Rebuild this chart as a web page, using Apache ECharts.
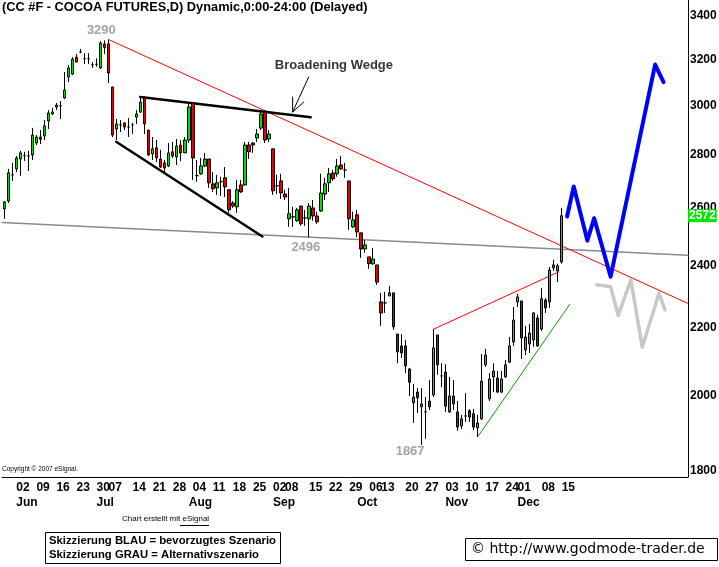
<!DOCTYPE html>
<html><head><meta charset="utf-8">
<script src="https://cdn.jsdelivr.net/npm/echarts@6/dist/echarts.min.js"></script>
<style>html,body{margin:0;padding:0;background:#fff}#c{width:719px;height:567px}</style>
</head><body><div id="c"></div>
<script>
// daily candles [open, close, low, high], 30 May 2007 .. 14 Dec 2007
const candles = [
[2597,2622,2561,2625],[2625,2731,2618,2746],[2723,2723,2700,2769],[2746,2788,2734,2796],[2784,2808,2719,2816],
[2797,2797,2776,2812],[2796,2796,2738,2816],[2800,2879,2780,2907],[2847,2871,2839,2879],[2871,2862,2843,2899],
[2875,2916,2859,2940],[2936,2969,2903,2981],[2965,2973,2961,2990],[2994,3002,2981,3011],[2999,2999,2944,3019],
[3032,3066,3027,3144],[3122,3162,3100,3175],[3135,3201,3131,3210],[3210,3188,3188,3224],[3233,3233,3228,3247],
[3203,3203,3179,3228],[3203,3203,3179,3228],[3176,3176,3162,3188],[3178,3178,3167,3205],[3162,3274,3158,3283],
[3270,3254,3224,3286],[3270,3140,3096,3290],[3079,2879,2871,3079],[2903,2924,2859,2944],[2920,2920,2891,2940],
[2928,2911,2899,2932],[2911,2911,2871,2948],[2920,2920,2883,2928],[2952,2965,2924,2981],[2973,3015,2969,3036],
[3032,2924,2883,3040],[2899,2800,2796,2899],[2804,2824,2780,2871],[2828,2788,2772,2859],[2784,2753,2749,2820],
[2769,2749,2734,2780],[2757,2808,2753,2847],[2812,2796,2788,2851],[2792,2835,2761,2863],[2839,2808,2776,2859],
[2808,2859,2808,2871],[2859,2994,2847,3015],[3011,2788,2704,3015],[2720,2720,2697,2780],[2727,2757,2723,2788],
[2757,2784,2753,2808],[2784,2693,2674,2784],[2689,2671,2659,2734],[2674,2693,2648,2723],[2697,2697,2644,2716],
[2712,2678,2640,2753],[2667,2593,2582,2667],[2618,2607,2600,2625],[2604,2667,2582,2704],[2685,2659,2655,2704],
[2685,2839,2682,2851],[2839,2812,2784,2851],[2847,2839,2808,2851],[2867,2883,2851,2903],[2907,2965,2899,2981],
[2973,2859,2847,2981],[2863,2883,2851,2899],[2824,2663,2648,2824],[2682,2682,2651,2723],[2700,2655,2633,2727],
[2651,2640,2629,2667],[2561,2579,2532,2674],[2568,2568,2532,2604],[2554,2593,2550,2600],[2607,2543,2536,2607],
[2564,2564,2536,2593],[2561,2607,2496,2618],[2600,2571,2554,2629],[2571,2550,2543,2586],[2589,2655,2586,2727],
[2651,2689,2629,2712],[2693,2727,2659,2749],[2730,2708,2700,2742],[2727,2757,2716,2784],[2761,2746,2742,2796],
[2742,2742,2712,2769],[2700,2561,2521,2700],[2532,2557,2529,2586],[2575,2514,2496,2593],[2511,2455,2425,2511],
[2455,2469,2442,2486],[2428,2405,2388,2428],[2405,2421,2401,2459],[2401,2344,2335,2401],[2280,2245,2205,2309],
[2277,2277,2245,2312],[2299,2309,2299,2332],[2309,2202,2193,2309],[2180,2126,2093,2180],[2144,2123,2108,2180],
[2144,2085,2064,2162],[2076,2038,1999,2079],[1980,1996,1925,2033],[2010,1994,1952,2021],[1969,1977,1867,2021],
[1955,1955,1883,1996],[1985,1969,1960,2044],[2002,2138,1996,2195],[2177,2088,2059,2177],[2056,2056,2024,2093],
[2067,1971,1955,2090],[1955,1999,1952,2053],[1999,1977,1960,2044],[1955,1914,1904,1985],[1917,1936,1909,1947],
[1944,1944,1928,2007],[1958,1941,1928,1963],[1950,1914,1906,1963],[1912,1925,1888,1947],[1936,2041,1933,2120],
[2088,2117,2082,2135],[1991,2047,1985,2064],[2053,2070,2010,2093],[2050,2010,2007,2070],[2010,2047,2007,2070],
[2053,2088,2050,2102],[2096,2144,2093,2171],[2156,2223,2144,2264],[2280,2296,2264,2306],[2283,2168,2105,2283],
[2132,2171,2117,2205],[2150,2183,2123,2211],[2162,2245,2141,2248],[2229,2144,2141,2239],[2195,2290,2189,2325],
[2286,2261,2245,2293],[2280,2384,2261,2394],[2391,2401,2381,2418],[2381,2398,2344,2405],[2411,2572,2405,2600]
];
const slotCount = 171; // trading-day slots incl. projection space
const weekLabels = ['02','09','16','23','30','07','14','21','28','04','11','18','25','02','08','15','22','29','06','13','20','27','03','10','17','24','01','08','15'];
const weekIdx    = [3,8,13,18,23,26,32,37,42,47,52,57,62,67,70,76,81,86,91,94,100,105,110,115,120,125,128,134,139];
const monthLabels = ['Jun','Jul','Aug','Sep','Oct','Nov','Dec'];
const monthIdx    = [3,23,46,67,88,110,128];
const yTicks = [1800,2000,2200,2400,2600,2800,3000,3200,3400];
const lastClose = 2572;
const resistanceLine = [[26,3290],[170.5,2275]];
const supportLine = [[-0.5,2548],[170.5,2434]];
const wedgeUpper = [[33.9,3036],[76.4,2951]];
const wedgeLower = [[27.9,2852],[64.35,2498]];
const channelUpper = [[107.1,2195],[138.3,2378]];
const trendLine = [[118.1,1889],[141,2272]];
const blueScenario = [[140.35,2569],[142,2679],[145.4,2484],[147.1,2563],[151.2,2362],[162.3,3177],[164.4,3100]];
const grayScenario = [[147.7,2335],[151.2,2329],[153.1,2237],[156.25,2351],[159.1,2140],[163.25,2308],[164.75,2255]];
const arrowShaft = [[75.9,3122],[71.9,2973]];
const arrowHead = [[71.9,3036],[71.9,2973],[74.7,3015]];
const pivotLabels = [[24.2,3334,'3290'],[75.2,2459,'2496'],[101.2,1849,'1867']];
const patternLabel = [[82.2,3171,'Broadening Wedge']];

const cats = Array.from({length: slotCount}, (_, i) => String(i));
const weekMap = {}; weekIdx.forEach((v, i) => weekMap[v] = weekLabels[i]);
const monthMap = {}; monthIdx.forEach((v, i) => monthMap[v] = monthLabels[i]);
const FONT = 'Liberation Sans, Arial, sans-serif';

function lineSeries(data, color, width) {
  return { type: 'line', xAxisIndex: 2, yAxisIndex: 0, data: data, symbol: 'none', silent: true,
    lineStyle: { color: color, width: width, cap: 'round', join: 'round' }, z: 3 };
}

const chart = echarts.init(document.getElementById('c'), null, { renderer: 'canvas' });
chart.setOption({
  animation: false,
  backgroundColor: '#fff',
  grid: { left: 2.3, right: 31, top: 0, bottom: 90 },
  xAxis: [
    { type: 'category', data: cats, boundaryGap: true,
      axisLine: { show: true, onZero: false, lineStyle: { color: '#000', width: 1 } }, axisTick: { show: false },
      axisLabel: { interval: (i) => weekMap[i] !== undefined, formatter: (v, i) => weekMap[i] || '',
        align: 'left', margin: 5, color: '#000', fontWeight: 'bold', fontSize: 12, fontFamily: FONT } },
    { type: 'category', data: cats, boundaryGap: true, position: 'bottom', offset: 15,
      axisLine: { show: false, onZero: false }, axisTick: { show: false },
      axisLabel: { interval: (i) => monthMap[i] !== undefined, formatter: (v, i) => monthMap[i] || '',
        align: 'left', margin: 5, color: '#000', fontWeight: 'bold', fontSize: 12, fontFamily: FONT } },
    { type: 'value', min: -0.5, max: slotCount - 0.5, show: false, axisLine: { onZero: false } }
  ],
  yAxis: [{ type: 'log', logBase: 10, min: 1785, max: 3477, position: 'right',
    axisLine: { show: true, onZero: false, lineStyle: { color: '#000', width: 1 } }, axisTick: { show: false },
    axisLabel: { show: false }, splitLine: { show: false } }],
  series: [
    lineSeries(supportLine, '#8a8a8a', 1.5),
    lineSeries(resistanceLine, '#ff0000', 1),
    lineSeries(channelUpper, '#ff0000', 1),
    lineSeries(trendLine, '#00a000', 1),
    lineSeries(wedgeUpper, '#000', 2.5),
    lineSeries(wedgeLower, '#000', 2.5),
    lineSeries(arrowShaft, '#000', 1),
    lineSeries(arrowHead, '#000', 1),
    lineSeries(grayScenario, '#c8c8c8', 3.5),
    lineSeries(blueScenario, '#0000ff', 4),
    { type: 'candlestick', xAxisIndex: 0, yAxisIndex: 0, data: candles, barWidth: 3, z: 4,
      itemStyle: { color: '#00e000', color0: '#e80000', borderColor: '#000', borderColor0: '#000', borderColorDoji: '#000', borderWidth: 1 },
      markLine: { silent: true, symbol: 'none', animation: false,
        lineStyle: { width: 0, color: 'transparent' },
        label: { show: true, position: 'end', distance: 2, formatter: '{c}', color: '#000', fontWeight: 'bold', fontSize: 12, fontFamily: FONT },
        data: yTicks.map(v => ({ yAxis: v })).concat([{ yAxis: lastClose,
          label: { backgroundColor: '#00e800', color: '#fff', padding: [1, 1, 0, 1], distance: 0 } }]) }
    },
    { type: 'scatter', xAxisIndex: 2, yAxisIndex: 0, symbolSize: 0, silent: true, z: 6,
      data: pivotLabels,
      label: { show: true, position: 'inside', formatter: p => p.data[2], color: '#8c8c8c', fontWeight: 'bold', fontSize: 13, fontFamily: FONT } },
    { type: 'scatter', xAxisIndex: 2, yAxisIndex: 0, symbolSize: 0, silent: true, z: 6,
      data: patternLabel,
      label: { show: true, position: 'inside', formatter: p => p.data[2], color: '#000', fontWeight: 'bold', fontSize: 13, fontFamily: FONT } }
  ],
  graphic: [
    { type: 'text', left: 2, top: 1, style: { text: '(CC #F - COCOA FUTURES,D) Dynamic,0:00-24:00 (Delayed)', font: 'bold 12.8px ' + FONT, fill: '#000' } },
    { type: 'text', left: 2, top: 466, style: { text: 'Copyright \u00a9 2007 eSignal.', font: '6.5px ' + FONT, fill: '#000' } },
    { type: 'text', left: 122, top: 515, style: { text: 'Chart erstellt mit eSignal', font: '8px ' + FONT, fill: '#000' } },
    { type: 'line', shape: { x1: 180, y1: 525.5, x2: 209, y2: 525.5 }, style: { stroke: '#000', lineWidth: 1 } },
    { type: 'rect', shape: { x: 45.5, y: 532.5, width: 235, height: 31 }, style: { fill: '#fff', stroke: '#000', lineWidth: 1 } },
    { type: 'text', left: 49, top: 535, style: { text: 'Skizzierung BLAU = bevorzugtes Szenario', font: 'bold 11.3px ' + FONT, fill: '#000' } },
    { type: 'text', left: 49, top: 549, style: { text: 'Skizzierung GRAU = Alternativszenario', font: 'bold 11.3px ' + FONT, fill: '#000' } },
    { type: 'rect', shape: { x: 465.5, y: 538.5, width: 252, height: 22 }, style: { fill: '#fff', stroke: '#000', lineWidth: 1 } },
    { type: 'text', left: 471, top: 542, style: { text: '\u00a9 http://www.godmode-trader.de', font: '14px DejaVu Sans, sans-serif', fill: '#000' } }
  ]
});
</script></body></html>
